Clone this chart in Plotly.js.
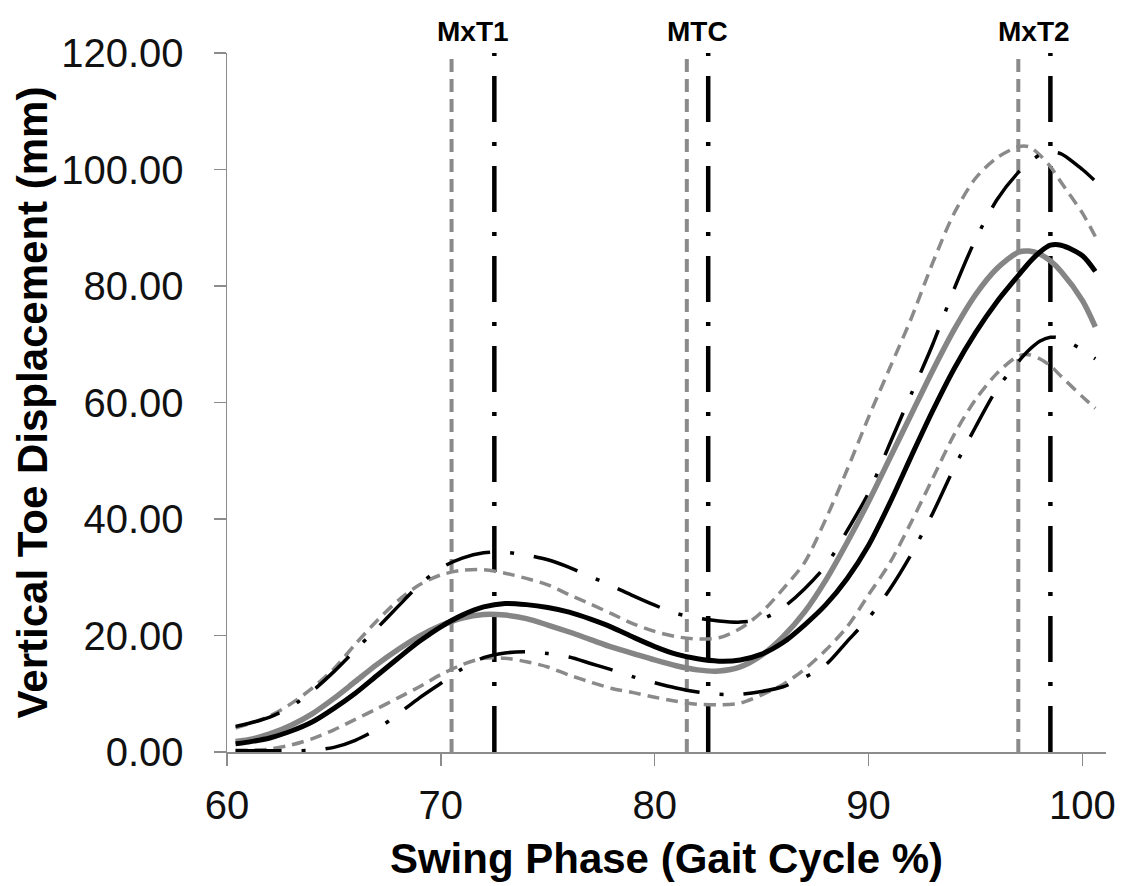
<!DOCTYPE html>
<html>
<head>
<meta charset="utf-8">
<script src="https://cdn.plot.ly/plotly-3.0.1.min.js"></script>
<style>
  html, body { margin: 0; padding: 0; background: #ffffff; }
  #chart { width: 1135px; height: 886px; }
</style>
</head>
<body>
<div id="chart"></div>
<script>
// ---- data ----
const swingPct = [60.4, 61, 62, 63, 64, 65, 66, 67, 68, 69, 70, 71, 72, 73, 74, 75, 76, 77, 78, 79, 80,
  81, 82, 83, 84, 85, 86, 87, 88, 89, 90, 91, 92, 93, 94, 95, 96, 97, 97.5, 98, 98.5, 99, 100, 100.6];

// black group: mean and +/- SD
const blackMean = [1.4, 1.7, 2.4, 3.6, 5.2, 7.5, 10.1, 13.1, 16.1, 19.0, 21.5, 23.5, 24.9, 25.5, 25.3, 24.8, 24.0, 22.8, 21.4, 19.7, 18.1,
  16.8, 16.0, 15.6, 15.8, 16.8, 18.8, 21.8, 25.3, 29.8, 35.5, 42.8, 50.8, 58.6, 65.8, 72.0, 77.3, 81.8, 84.0, 85.8, 87.0, 87.0, 85.2, 82.5];
const blackUpper = [4.4, 4.9, 6.0, 7.8, 10.5, 13.8, 17.5, 21.2, 25.0, 28.7, 31.6, 33.3, 34.2, 34.3, 33.8, 33.0, 31.7, 30.1, 28.5, 26.8, 25.2,
  23.8, 23.0, 22.5, 22.3, 22.8, 24.8, 28.0, 32.0, 38.0, 44.5, 53.0, 61.5, 70.0, 79.5, 88.0, 94.8, 99.5, 101.2, 102.5, 103.0, 102.7, 100.0, 98.0];
const blackLower = [0.2, 0.2, 0.2, 0.2, 0.3, 0.8, 2.0, 3.9, 6.5, 9.3, 11.8, 14.3, 16.2, 17.0, 17.2, 16.9, 16.3, 15.2, 14.1, 12.9, 11.9,
  11.0, 10.3, 9.9, 9.9, 10.4, 11.2, 12.8, 15.0, 19.0, 23.0, 28.0, 34.0, 41.0, 48.8, 55.8, 62.3, 67.0, 69.0, 70.5, 71.2, 71.0, 69.0, 67.5];

// grey group: mean and +/- SD
const greyMean = [1.8, 2.1, 3.1, 4.6, 6.6, 9.2, 12.1, 15.0, 17.6, 19.9, 21.7, 23.0, 23.6, 23.5, 22.9, 21.8, 20.6, 19.3, 18.0, 16.9, 15.8,
  14.8, 14.1, 13.9, 14.6, 16.6, 19.8, 24.0, 29.5, 36.0, 43.0, 50.5, 58.0, 65.5, 72.5, 78.5, 83.0, 85.8, 86.0, 85.5, 84.3, 82.5, 77.5, 73.0];
const greyUpper = [4.1, 4.8, 6.2, 8.3, 11.0, 14.3, 18.5, 22.5, 26.0, 28.7, 30.4, 31.2, 31.3, 30.7, 29.8, 28.7, 27.0, 25.4, 23.7, 22.0, 20.7,
  19.8, 19.4, 19.6, 21.2, 24.0, 28.0, 32.5, 40.0, 48.5, 57.5, 66.0, 74.5, 84.0, 92.5, 98.5, 102.0, 103.9, 103.9, 102.5, 100.5, 97.8, 92.5, 88.5];
const greyLower = [0.3, 0.3, 0.5, 1.2, 2.3, 3.8, 5.6, 7.4, 9.3, 11.2, 13.3, 15.0, 16.1, 16.1, 15.5, 14.6, 13.2, 12.0, 10.9, 10.2, 9.4,
  8.7, 8.2, 8.1, 8.4, 9.8, 11.6, 14.2, 17.5, 21.5, 27.0, 32.5, 39.5, 47.0, 54.5, 60.5, 65.0, 68.0, 68.2, 67.5, 66.3, 64.5, 61.0, 59.0];

// gait events (vertical lines) and their labels
const eventLabels = ["MxT1", "MTC", "MxT2"];
const greyEventPct = [70.5, 81.5, 97.0];
const blackEventPct = [72.5, 82.5, 98.5];

// axes
const xTickVals = [60, 70, 80, 90, 100];
const yTickVals = [0, 20, 40, 60, 80, 100, 120];
const xRange = [60, 101.1];
const yRange = [0, 120];

// ---- build traces ----
const BLACK = '#000000';
const GREY = '#8a8a8a';
const DASHDOT = '46px,20px,4px,20px';
const DASH = '12px,7px';

function vLines(xs) {
  const x = [], y = [];
  xs.forEach(v => { x.push(v, v, null); y.push(yRange[0], yRange[1], null); });
  return { x, y };
}
const gv = vLines(greyEventPct);
const bv = vLines(blackEventPct);

const traces = [
  { x: gv.x, y: gv.y, mode: 'lines', hoverinfo: 'skip', connectgaps: false,
    line: { color: GREY, width: 4, dash: '13px,7px' } },
  { x: bv.x, y: bv.y, mode: 'lines', hoverinfo: 'skip', connectgaps: false,
    line: { color: BLACK, width: 4.5, dash: DASHDOT } },
  { x: swingPct, y: greyUpper, mode: 'lines', name: 'Grey +SD',
    line: { color: GREY, width: 3.5, dash: DASH, shape: 'spline', smoothing: 0.8 } },
  { x: swingPct, y: greyLower, mode: 'lines', name: 'Grey -SD',
    line: { color: GREY, width: 3.5, dash: DASH, shape: 'spline', smoothing: 0.8 } },
  { x: swingPct, y: blackUpper, mode: 'lines', name: 'Black +SD',
    line: { color: BLACK, width: 3.5, dash: DASHDOT, shape: 'spline', smoothing: 0.8 } },
  { x: swingPct, y: blackLower, mode: 'lines', name: 'Black -SD',
    line: { color: BLACK, width: 3.5, dash: DASHDOT, shape: 'spline', smoothing: 0.8 } },
  { x: swingPct, y: greyMean, mode: 'lines', name: 'Grey mean',
    line: { color: '#858585', width: 5.5, shape: 'spline', smoothing: 0.8 } },
  { x: swingPct, y: blackMean, mode: 'lines', name: 'Black mean',
    line: { color: BLACK, width: 5, shape: 'spline', smoothing: 0.8 } }
];

const annotations = eventLabels.map((t, i) => ({
  text: t,
  x: (greyEventPct[i] + blackEventPct[i]) / 2,
  xref: 'x', yref: 'paper', y: 1.031,
  xanchor: 'center', yanchor: 'middle', showarrow: false,
  font: { size: 28, weight: 'bold', color: '#000' }
}));

const axisColor = '#8c8c8c';
const layout = {
  width: 1135, height: 886,
  margin: { l: 227, r: 29, t: 53, b: 134, pad: 0 },
  paper_bgcolor: '#ffffff', plot_bgcolor: '#ffffff',
  showlegend: false,
  font: { family: '"Liberation Sans", Arial, sans-serif', color: '#000' },
  annotations: annotations,
  xaxis: {
    range: xRange, tickmode: 'array', tickvals: xTickVals,
    ticks: 'outside', ticklen: 12, tickwidth: 1.5, tickcolor: axisColor,
    showline: true, linecolor: axisColor, linewidth: 1.5,
    showgrid: false, zeroline: false, automargin: false,
    tickfont: { size: 40, color: '#111' }, ticklabelstandoff: 5,
    title: { text: 'Swing Phase (Gait Cycle %)', font: { size: 42, weight: 'bold', color: '#000' }, standoff: 18 }
  },
  yaxis: {
    range: yRange, tickmode: 'array', tickvals: yTickVals, tickformat: '.2f',
    ticks: 'outside', ticklen: 12, tickwidth: 1.5, tickcolor: axisColor,
    showline: true, linecolor: axisColor, linewidth: 1.5,
    showgrid: false, zeroline: false, automargin: false,
    tickfont: { size: 40, color: '#111' }, ticklabelstandoff: 22,
    title: { text: 'Vertical Toe Displacement (mm)', font: { size: 42, weight: 'bold', color: '#000' }, standoff: 0 }
  }
};

Plotly.newPlot('chart', traces, layout, { displayModeBar: false, staticPlot: true });
</script>
</body>
</html>
